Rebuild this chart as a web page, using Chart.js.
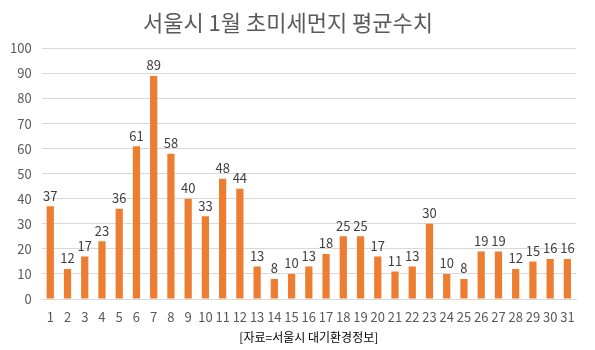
<!DOCTYPE html>
<html>
<head>
<meta charset="utf-8">
<script src="https://cdn.jsdelivr.net/npm/chart.js@4/dist/chart.umd.min.js"></script>
<style>
  html, body { margin: 0; padding: 0; background: #fff; }
  #wrap { width: 595px; height: 350px; }
</style>
</head>
<body>
<div id="wrap"><canvas id="chart" width="595" height="350"></canvas></div>
<script>
const days = ['1','2','3','4','5','6','7','8','9','10','11','12','13','14','15','16','17','18','19','20','21','22','23','24','25','26','27','28','29','30','31'];
const pm25 = [37, 12, 17, 23, 36, 61, 89, 58, 40, 33, 48, 44, 13, 8, 10, 13, 18, 25, 25, 17, 11, 13, 30, 10, 8, 19, 19, 12, 15, 16, 16];
const yTicks = [0, 10, 20, 30, 40, 50, 60, 70, 80, 90, 100];

const FONT = "'Noto Sans CJK KR', 'Noto Sans', sans-serif";

// Draw value labels above each bar
const barValues = {
  id: 'barValues',
  afterDatasetsDraw(chart) {
    const ctx = chart.ctx;
    const meta = chart.getDatasetMeta(0);
    ctx.save();
    ctx.font = `13px ${FONT}`;
    ctx.fillStyle = '#404040';
    ctx.textAlign = 'center';
    ctx.textBaseline = 'bottom';
    meta.data.forEach((bar, i) => {
      ctx.fillText(pm25[i], bar.x, bar.y - 4);
    });
    ctx.restore();
  },
};

const ctx = document.getElementById('chart').getContext('2d');
new Chart(ctx, {
  type: 'bar',
  data: {
    labels: days,
    datasets: [{
      data: pm25,
      backgroundColor: '#ed7d31',
      categoryPercentage: 1,
      barPercentage: 0.42,
    }],
  },
  options: {
    responsive: false,
    animation: false,
    layout: { padding: { left: 0, right: 19, top: 9, bottom: 5 } },
    plugins: {
      legend: { display: false },
      tooltip: { enabled: false },
      title: {
        display: true,
        text: '서울시 1월 초미세먼지 평균수치',
        color: '#595959',
        font: { family: FONT, size: 22, weight: 'normal' },
        padding: { top: 0, bottom: 13 },
      },
    },
    scales: {
      x: {
        grid: { display: false },
        border: { color: '#d9d9d9' },
        ticks: { color: '#595959', font: { family: FONT, size: 13 }, maxRotation: 0, autoSkip: false, padding: 2 },
        title: {
          display: true,
          text: '[자료=서울시 대기환경정보]',
          color: '#000',
          font: { family: FONT, size: 12 },
          padding: { top: 4, bottom: 0 },
        },
      },
      y: {
        min: 0,
        max: 100,
        afterBuildTicks: axis => { axis.ticks = yTicks.map(v => ({ value: v })); },
        grid: { color: '#d9d9d9', drawTicks: false },
        border: { display: false },
        ticks: { color: '#595959', font: { family: FONT, size: 13 }, padding: 10 },
      },
    },
  },
  plugins: [barValues],
});
</script>
</body>
</html>
